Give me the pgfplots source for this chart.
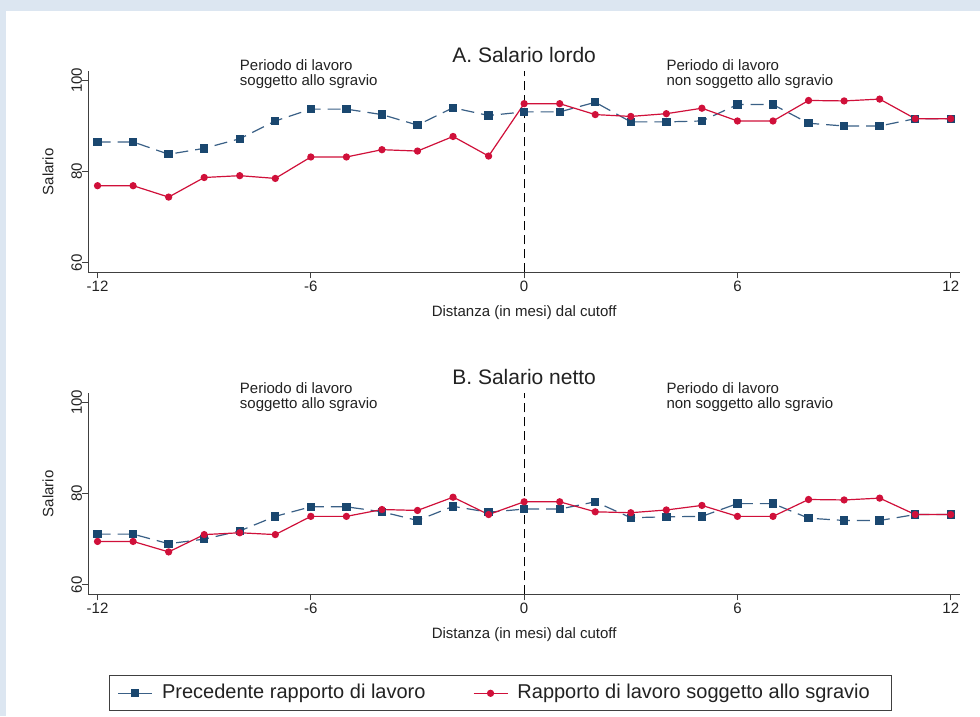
\documentclass[border=0pt]{standalone}
\usepackage{fontspec}
\setmainfont{Liberation Sans}
\usepackage{pgfplots}
\pgfplotsset{compat=1.18}
\definecolor{bgblue}{HTML}{DCE6F1}
\definecolor{navy}{HTML}{1A476F}
\definecolor{navyline}{HTML}{3A6086}
\definecolor{cran}{HTML}{D0103A}
\definecolor{axgray}{HTML}{404040}
\definecolor{txt}{HTML}{222222}

\pgfplotstableread{
x y
-12 86.5
-11 86.5
-10 83.8
-9 85.1
-8 87.2
-7 91.1
-6 93.7
-5 93.7
-4 92.5
-3 90.2
-2 94.0
-1 92.3
0 93.1
1 93.1
2 95.2
3 90.9
4 90.9
5 91.1
6 94.7
7 94.7
8 90.6
9 90.0
10 90.0
11 91.6
12 91.6
}\blueA
\pgfplotstableread{
x y
-12 76.9
-11 76.9
-10 74.4
-9 78.7
-8 79.1
-7 78.5
-6 83.2
-5 83.2
-4 84.8
-3 84.5
-2 87.7
-1 83.4
0 94.9
1 94.9
2 92.5
3 92.1
4 92.7
5 93.9
6 91.1
7 91.1
8 95.6
9 95.5
10 95.9
11 91.6
12 91.6
}\redA
\pgfplotstableread{
x y
-12 71.1
-11 71.1
-10 69.0
-9 70.0
-8 71.8
-7 75.0
-6 77.1
-5 77.1
-4 76.0
-3 74.1
-2 77.2
-1 75.9
0 76.6
1 76.6
2 78.2
3 74.7
4 74.9
5 75.0
6 77.8
7 77.8
8 74.6
9 74.1
10 74.1
11 75.4
12 75.4
}\blueB
\pgfplotstableread{
x y
-12 69.5
-11 69.5
-10 67.2
-9 71.0
-8 71.4
-7 71.0
-6 75.0
-5 75.0
-4 76.5
-3 76.3
-2 79.2
-1 75.4
0 78.2
1 78.2
2 76.0
3 75.8
4 76.4
5 77.4
6 75.0
7 75.0
8 78.7
9 78.6
10 79.0
11 75.4
12 75.4
}\redB

\newcommand{\lblfont}{\fontsize{15}{15}\selectfont}
\pgfplotsset{
  panel/.style={
    scale only axis, width=871.7pt, height=201pt,
    xmin=-12.26, xmax=12.26, ymin=57.9, ymax=102,
    axis x line=bottom, axis y line=left,
    axis line style={-, axgray, line width=0.9pt},
    xtick={-12,-6,0,6,12}, ytick={60,80,100},
    tick align=outside, major tick length=6pt,
    tick style={axgray, line width=0.9pt},
    /pgf/number format/assume math mode=true,
    ticklabel style={font=\lblfont, text=txt, inner sep=0pt},
    xticklabel style={anchor=north, yshift=-2.7pt},
    yticklabel style={rotate=90, anchor=south, xshift=0pt},
    every axis x label/.style={at={([yshift=-44.4pt]axis description cs:0.5,0)}, anchor=base, font=\lblfont, text=txt},
    every axis y label/.style={at={([xshift=-35pt]axis description cs:0,0.5)}, rotate=90, anchor=base, font=\lblfont, text=txt},
    xlabel={Distanza (in mesi) dal cutoff},
    ylabel={Salario},
    title style={at={(axis description cs:0.5,1)}, anchor=base, yshift=3pt, font=\fontsize{21}{21}\selectfont, text=txt, inner sep=0pt},
    clip=false,
  },
  bluep/.style={navyline, line width=1.2pt, dash pattern=on 13pt off 7pt, mark=square*, mark size=3.6pt, mark options={solid, fill=navy, draw=navy}},
  redp/.style={cran, line width=1.2pt, mark=*, mark size=3pt, mark options={solid, fill=cran, draw=cran}},
}

\begin{document}
\begin{tikzpicture}[x=1pt,y=1pt]
\useasboundingbox (0,0) rectangle (980,716);
\fill[white] (0,0) rectangle (980,716);
\fill[bgblue] (0,0) rectangle (6,716);
\fill[bgblue] (0,705) rectangle (980,716);

\begin{axis}[panel, at={(88.3pt,443.7pt)}, anchor=south west, title={A. Salario lordo}]
\draw[black, line width=0.9pt, dash pattern=on 9pt off 5pt] (axis cs:0,57.9) -- (axis cs:0,102);
\addplot[bluep] table[x=x,y=y] {\blueA};
\addplot[redp] table[x=x,y=y] {\redA};
\node[anchor=base west, inner sep=0pt, font=\lblfont, text=txt] at (axis cs:-8,102.13) {Periodo di lavoro};
\node[anchor=base west, inner sep=0pt, font=\lblfont, text=txt] at (axis cs:-8,98.83) {soggetto allo sgravio};
\node[anchor=base west, inner sep=0pt, font=\lblfont, text=txt] at (axis cs:4,102.13) {Periodo di lavoro};
\node[anchor=base west, inner sep=0pt, font=\lblfont, text=txt] at (axis cs:4,98.83) {non soggetto allo sgravio};
\end{axis}

\begin{axis}[panel, at={(88.3pt,121.7pt)}, anchor=south west, title={B. Salario netto},
  legend columns=2,
  legend cell align=left,
  legend image code/.code={\draw[mark repeat=2,mark phase=2,#1] plot coordinates {(0pt,0pt) (17pt,0pt) (34pt,0pt)};},
  legend style={
    at={(axis description cs:0.0241,-0.4925)}, anchor=west,
    draw=black!75, line width=1.1pt,
    inner xsep=7.7pt, inner ysep=8pt,
    font=\fontsize{20}{20}\selectfont, text=txt,
    nodes={inner sep=0pt, text depth=4.2pt, text height=14.6pt},
    /tikz/every odd column/.append style={column sep=9.3pt},
    /tikz/every even column/.append style={column sep=47.4pt},
  },
]
\addlegendimage{navyline, line width=1.2pt, solid, mark=square*, mark size=3.6pt, mark options={fill=navy, draw=navy}}
\addlegendentry{Precedente rapporto di lavoro}
\addlegendimage{cran, line width=1.2pt, solid, mark=*, mark size=3pt, mark options={fill=cran, draw=cran}}
\addlegendentry{Rapporto di lavoro soggetto allo sgravio\kern13.9pt\null}
\draw[black, line width=0.9pt, dash pattern=on 9pt off 5pt] (axis cs:0,57.9) -- (axis cs:0,102);
\addplot[bluep, forget plot] table[x=x,y=y] {\blueB};
\addplot[redp, forget plot] table[x=x,y=y] {\redB};
\node[anchor=base west, inner sep=0pt, font=\lblfont, text=txt] at (axis cs:-8,102.06) {Periodo di lavoro};
\node[anchor=base west, inner sep=0pt, font=\lblfont, text=txt] at (axis cs:-8,98.77) {soggetto allo sgravio};
\node[anchor=base west, inner sep=0pt, font=\lblfont, text=txt] at (axis cs:4,102.06) {Periodo di lavoro};
\node[anchor=base west, inner sep=0pt, font=\lblfont, text=txt] at (axis cs:4,98.77) {non soggetto allo sgravio};
\end{axis}
\end{tikzpicture}
\end{document}
